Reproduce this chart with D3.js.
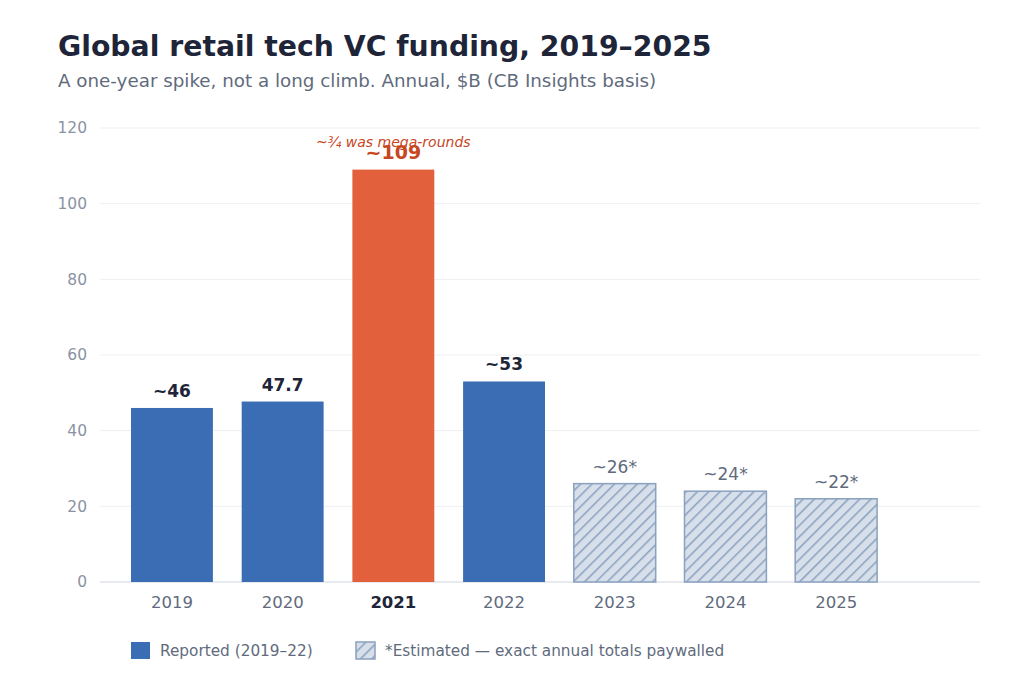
<!DOCTYPE html><html><head><meta charset="utf-8"><script src="https://cdn.jsdelivr.net/npm/d3@7"></script>
<style>body{margin:0;background:#fff;font-family:"DejaVu Sans",sans-serif}</style></head><body>
<svg id="c" width="1024" height="683"></svg>
<script>
const years=["2019","2020","2021","2022","2023","2024","2025"];
const values=[46,47.7,109,53,26,24,22];
const labels=["~46","47.7","~109","~53","~26*","~24*","~22*"];
const kinds=["rep","rep","peak","rep","est","est","est"];
const yTicks=[0,20,40,60,80,100,120];
const svg=d3.select("#c");
const x=d3.scaleBand().domain(years).range([116.6,891.5]).paddingInner(0.26).paddingOuter(0.13);
const y=d3.scaleLinear().domain([0,120]).range([582,128]);
const defs=svg.append("defs");
const p=defs.append("pattern").attr("id","h").attr("patternUnits","userSpaceOnUse").attr("width",8).attr("height",8).attr("patternTransform","rotate(45)");
p.append("rect").attr("width",8).attr("height",8).attr("fill","#d6dfea");
p.append("line").attr("x1",0).attr("y1",0).attr("x2",0).attr("y2",8).attr("stroke","#8aa1bf").attr("stroke-width",3);
svg.append("text").attr("x",58).attr("y",56).attr("font-size",28.3).attr("font-weight","bold").attr("fill","#1e2538").text("Global retail tech VC funding, 2019–2025");
svg.append("text").attr("x",58).attr("y",87).attr("font-size",18.3).attr("fill","#5f6b7d").text("A one-year spike, not a long climb. Annual, $B (CB Insights basis)");
const g=svg.append("g");
g.selectAll(".grid").data(yTicks).join("line").attr("x1",100).attr("x2",980).attr("y1",d=>y(d)).attr("y2",d=>y(d)).attr("stroke",d=>d===0?"#cfd5e0":"#eceff3").attr("stroke-width",1);
const ya=svg.append("g").attr("transform","translate(90,0)").call(d3.axisLeft(y).tickValues(yTicks).tickSize(0));
ya.select(".domain").remove();ya.selectAll("text").attr("font-size",15.5).attr("fill","#8a93a3").attr("font-family","DejaVu Sans");
const xa=svg.append("g").attr("transform","translate(0,590)").call(d3.axisBottom(x).tickSize(0));
xa.select(".domain").remove();xa.selectAll("text").attr("font-size",16.5).attr("dy","0.9em").attr("fill",d=>d==="2021"?"#1e2538":"#5f6b7d").attr("font-weight",d=>d==="2021"?"bold":"normal").attr("font-family","DejaVu Sans");
const col={rep:"#3a6db3",peak:"#e2603b",est:"url(#h)"};
g.selectAll(".bar").data(years).join("rect").attr("x",d=>x(d)).attr("width",x.bandwidth()).attr("y",(d,i)=>y(values[i])).attr("height",(d,i)=>582-y(values[i])).attr("fill",(d,i)=>col[kinds[i]]).attr("stroke",(d,i)=>kinds[i]==="est"?"#8aa1bf":"none").attr("stroke-width",1.5);
g.selectAll(".lab").data(years).join("text").attr("x",d=>x(d)+x.bandwidth()/2).attr("y",(d,i)=>y(values[i])-11).attr("text-anchor","middle")
 .attr("font-size",(d,i)=>kinds[i]==="peak"?19:17).attr("font-weight",(d,i)=>kinds[i]==="est"?"normal":"bold")
 .attr("fill",(d,i)=>kinds[i]==="peak"?"#c7471f":kinds[i]==="est"?"#5f6b7d":"#1e2538").text((d,i)=>labels[i]);
svg.append("text").attr("x",x("2021")+x.bandwidth()/2).attr("y",147).attr("text-anchor","middle").attr("font-size",14).attr("font-style","italic").attr("fill","#c7471f").text("~¾ was mega-rounds");
svg.append("rect").attr("x",131).attr("y",642).attr("width",19).attr("height",17).attr("fill","#3a6db3");
svg.append("text").attr("x",160).attr("y",656).attr("font-size",15.3).attr("fill","#5f6b7d").text("Reported (2019–22)");
svg.append("rect").attr("x",356).attr("y",642).attr("width",19).attr("height",17).attr("fill","url(#h)").attr("stroke","#8aa1bf").attr("stroke-width",1.5);
svg.append("text").attr("x",385).attr("y",656).attr("font-size",15.3).attr("fill","#5f6b7d").text("*Estimated — exact annual totals paywalled");
</script></body></html>
